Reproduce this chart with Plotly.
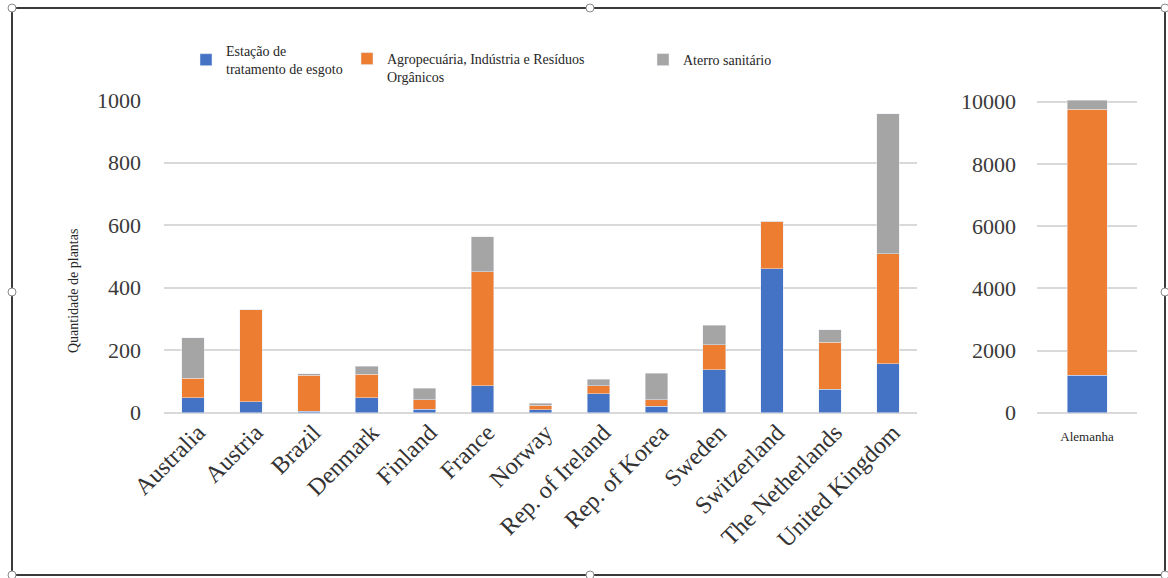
import plotly.graph_objects as go

# Biogas plants per country, split by feedstock source
countries = ["Australia", "Austria", "Brazil", "Denmark", "Finland", "France", "Norway",
             "Rep. of Ireland", "Rep. of Korea", "Sweden", "Switzerland",
             "The Netherlands", "United Kingdom"]
sewage = [48, 35, 5, 48, 11, 87, 10, 60, 20, 137, 461, 75, 157]
agro = [62, 295, 114, 75, 30, 364, 14, 27, 22, 81, 152, 151, 352]
landfill = [129, 0, 5, 25, 37, 112, 6, 20, 84, 61, 0, 39, 447]

# Germany is drawn on its own scale
germany = ["Alemanha"]
germany_sewage = [1200]
germany_agro = [8550]
germany_landfill = [300]

series_names = ["Estação de<br>tratamento de esgoto",
                "Agropecuária, Indústria e Resíduos<br>Orgânicos",
                "Aterro sanitário"]
colors = ["#4472C4", "#ED7D31", "#A5A5A5"]

W, H = 1168, 578
FONT = "Liberation Serif, Times New Roman, serif"


def px_x(x):
    return x / W


def px_y(y):
    return 1 - y / H


fig = go.Figure()

left_vals = [sewage, agro, landfill]
right_vals = [germany_sewage, germany_agro, germany_landfill]
legends = ["legend", "legend2", "legend3"]

for i in range(3):
    fig.add_trace(go.Bar(
        x=countries, y=left_vals[i], name=series_names[i],
        marker_color=colors[i], width=0.39,
        xaxis="x", yaxis="y", legend=legends[i], showlegend=True,
    ))
    fig.add_trace(go.Bar(
        x=germany, y=right_vals[i], name=series_names[i],
        marker_color=colors[i], width=0.4,
        xaxis="x2", yaxis="y2", showlegend=False,
    ))

grid = "#D9D9D9"
tick_font = dict(family=FONT, size=22, color="#3a3a3a")
cat_font = dict(family=FONT, size=24, color="#333333")
legend_font = dict(family=FONT, size=14, color="#262626")

fig.update_layout(
    width=W, height=H,
    margin=dict(l=0, r=0, t=0, b=0, autoexpand=False),
    paper_bgcolor="white", plot_bgcolor="white",
    barmode="stack",
    font=dict(family=FONT, color="#333333"),
    xaxis=dict(domain=[px_x(164), px_x(917)], anchor="y", type="category",
               tickangle=-45, tickfont=cat_font, showgrid=False,
               showline=False, ticks="", automargin=False, ticklabelshift=5),
    yaxis=dict(domain=[px_y(412.7), px_y(100)], anchor="x", range=[0, 1000],
               dtick=200, tickfont=tick_font, showgrid=True, gridcolor=grid,
               gridwidth=1.5, zeroline=True, zerolinecolor=grid, zerolinewidth=1.5,
               ticklabelstandoff=22, automargin=False),
    xaxis2=dict(domain=[px_x(1037), px_x(1137)], anchor="y2", type="category",
                tickfont=dict(family=FONT, size=13, color="#262626"),
                showgrid=False, showline=False, ticks="", ticklabelstandoff=14,
                automargin=False),
    yaxis2=dict(domain=[px_y(412.7), px_y(98)], anchor="x2",
                range=[0, 314.7 / 311 * 10000], tickvals=[0, 2000, 4000, 6000, 8000, 10000],
                tickformat="d",
                tickfont=tick_font, showgrid=True, gridcolor=grid, gridwidth=1.5,
                zeroline=True, zerolinecolor=grid, zerolinewidth=1.5,
                ticklabelstandoff=20, automargin=False),
    legend=dict(x=px_x(186), y=px_y(35), xanchor="left", yanchor="top",
                bgcolor="rgba(255,255,255,0)", font=legend_font, valign="middle"),
    legend2=dict(x=px_x(347), y=px_y(43), xanchor="left", yanchor="top",
                 bgcolor="rgba(255,255,255,0)", font=legend_font, valign="top"),
    legend3=dict(x=px_x(643), y=px_y(44), xanchor="left", yanchor="top",
                 bgcolor="rgba(255,255,255,0)", font=legend_font, valign="top"),
    annotations=[dict(text="Quantidade de plantas", textangle=-90,
                      xref="paper", yref="paper", x=px_x(73), y=px_y(291),
                      xanchor="center", yanchor="middle", showarrow=False,
                      font=dict(family=FONT, size=14, color="#262626"))],
)

shapes = []
# gaps in the top gridline behind the legend entries
shapes.append(dict(type="rect", xref="paper", yref="paper", layer="above",
                   x0=px_x(223), x1=px_x(349), y0=px_y(102), y1=px_y(98),
                   fillcolor="rgba(255,255,255,0.75)", line_width=0))
shapes.append(dict(type="rect", xref="paper", yref="paper", layer="above",
                   x0=px_x(384), x1=px_x(608), y0=px_y(102), y1=px_y(98),
                   fillcolor="white", line_width=0))

# outer frame with selection handles
shapes.append(dict(type="rect", xref="paper", yref="paper", layer="above",
                   x0=px_x(12), x1=px_x(1165), y0=px_y(575), y1=px_y(8),
                   line=dict(color="#3a3a3a", width=2), fillcolor="rgba(0,0,0,0)"))
handles = [(12, 8), (590, 8), (1165, 8), (12, 292), (1165, 292),
           (12, 575), (590, 575), (1165, 575)]
r = 4
for cx, cy in handles:
    shapes.append(dict(type="circle", xref="paper", yref="paper", layer="above",
                       x0=px_x(cx - r), x1=px_x(cx + r), y0=px_y(cy + r), y1=px_y(cy - r),
                       fillcolor="white", line=dict(color="#8a8a8a", width=1)))
fig.update_layout(shapes=shapes)

fig.write_html("out.html")
